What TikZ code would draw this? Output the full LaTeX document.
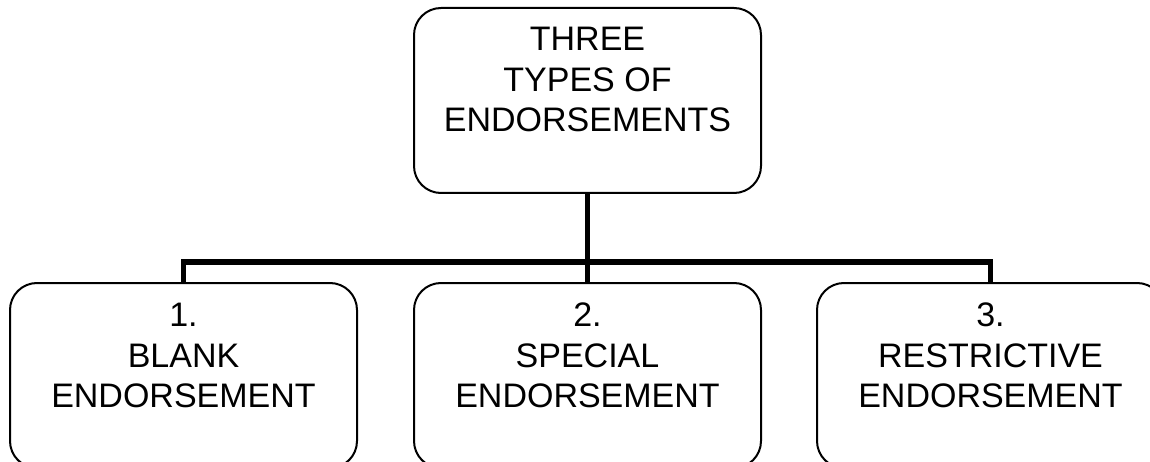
\documentclass[tikz,border=0pt]{standalone}
\usepackage{fontspec}
\setmainfont{Liberation Sans}
\begin{document}
\begin{tikzpicture}[x=1pt,y=-1pt,
  box/.style={draw=black, line width=2pt, rounded corners=27pt, minimum width=347pt, minimum height=185pt, anchor=north west, inner sep=0pt},
  lbl/.style={anchor=north, inner sep=0pt, align=center, font=\fontsize{34}{40.5}\selectfont},
  conn/.style={draw=black, line width=5.5pt}]
\useasboundingbox[fill=white] (0,0) rectangle (1150,462);
\node[box] (top) at (413,7) {};
\node[box] (b1) at (9,282) {};
\node[box] (b2) at (413,282) {};
\node[box] (b3) at (816,282) {};
\node[lbl] (ttop) at ([yshift=-20pt]top.north) {THREE\\TYPES OF\\ENDORSEMENTS};
\node[lbl] (t1) at ([yshift=-21pt]b1.north) {1.\\BLANK\\ENDORSEMENT};
\node[lbl] (t2) at ([yshift=-21pt]b2.north) {2.\\SPECIAL\\ENDORSEMENT};
\node[lbl] (t3) at ([yshift=-21pt]b3.north) {3.\\RESTRICTIVE\\ENDORSEMENT};
\coordinate (bus) at (0,262);
\draw[conn] (top.south) -- (top.south |- bus);
\draw[conn] (b1.north) -- (b1.north |- bus) -| (b3.north);
\draw[conn] (b2.north |- bus) -- (b2.north);
\end{tikzpicture}
\end{document}
